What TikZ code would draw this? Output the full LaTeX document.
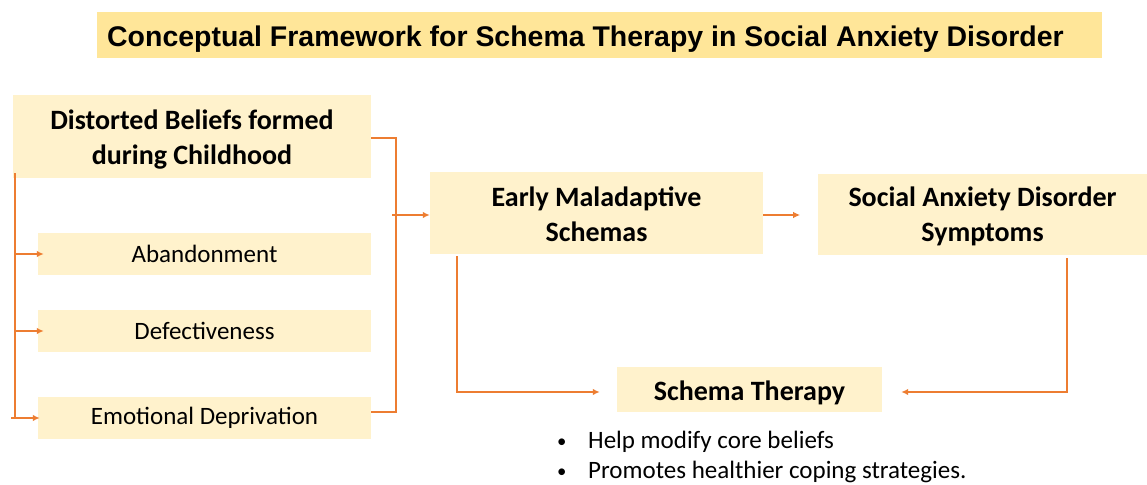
\documentclass[tikz,border=0pt]{standalone}
\usepackage{fontspec}
\setmainfont{Carlito}
\newfontfamily\titlefont{Liberation Sans}
\usetikzlibrary{arrows.meta,calc}
\definecolor{boxfill}{HTML}{FFF2CC}
\definecolor{titlefill}{HTML}{FFE699}
\definecolor{arrorange}{HTML}{ED7D31}
\begin{document}
\begin{tikzpicture}[x=1pt,y=-1pt,
  box/.style={fill=boxfill,draw=none,inner sep=0pt,align=center,text=black},
  headtext/.style={inner sep=0pt,align=center,font=\bfseries\fontsize{28}{35}\selectfont},
  itembox/.style={box,font=\fontsize{25}{30}\selectfont},
  conn/.style={draw=arrorange,line width=1.6pt},
  arr/.style={conn,-{Latex[length=7pt,width=6.5pt]}}]
\useasboundingbox[fill=white] (0,0) rectangle (1147,484);
% title
\node[fill=titlefill,minimum width=1005pt,minimum height=46pt,inner sep=0pt] (titlebox) at (599.5,35) {};
\node[anchor=base west,inner sep=0pt,font=\titlefont\bfseries\fontsize{28.45}{32}\selectfont] (title) at (107,46.5) {Conceptual Framework for Schema Therapy in Social Anxiety Disorder};
% left column
\node[box,minimum width=358pt,minimum height=83pt] (D) at (192,136.5) {};
\node[headtext] (Dt) at ($(D)+(0,3)$) {Distorted Beliefs formed\\during Childhood};
\node[itembox,minimum width=333pt,minimum height=42pt] (A) at (204.5,254) {Abandonment};
\node[itembox,minimum width=333pt,minimum height=42pt] (F) at (204.5,331) {Defectiveness};
\node[itembox,minimum width=333pt,minimum height=42pt] (E) at (204.5,418) {Emotional Deprivation};
% right boxes
\node[box,minimum width=333pt,minimum height=82pt] (M) at (596.5,213) {};
\node[headtext] (Mt) at ($(M)+(0,1)$) {Early Maladaptive\\Schemas};
\node[box,minimum width=329pt,minimum height=81pt] (S) at (982.5,214.5) {};
\node[headtext] (St) at ($(S)+(0,2)$) {Social Anxiety Disorder\\Symptoms};
\node[box,minimum width=265pt,minimum height=45pt] (T) at (749.5,389.5) {};
\node[headtext] (Tt) at ($(T)+(0,3)$) {Schema Therapy};
% bullets
\node[anchor=north west,inner sep=0pt,align=left,font=\fontsize{25}{30}\selectfont] (B) at (557,431)
  {\makebox[31pt][l]{\raisebox{1pt}{\scalebox{0.75}{•}}}Help modify core beliefs\\ \makebox[31pt][l]{\raisebox{1pt}{\scalebox{0.75}{•}}}Promotes healthier coping strategies.};
% connectors
\coordinate (vtop) at (15,173);
\coordinate (vbot) at (15,418);
\draw[conn] (vtop) -- (vbot);
\draw[arr] (vtop |- A.west) -- ([xshift=6pt]A.west);
\draw[arr] (vtop |- F.west) -- ([xshift=6pt]F.west);
\draw[arr] ($(vbot)+(-4,0)$) -- ([xshift=2pt]E.west);
\coordinate (rb) at (396,215);
\draw[conn] (D.east |- 0,138) -| (rb) |- ($(E.east)+(0,-6)$);
\draw[arr] ($(rb)+(-4,0)$) -- (M.west |- rb);
\draw[arr] (M.east |- 0,215) -- ++(37,0);
\draw[arr] ($(M.south west)+(27,2)$) |- ($(T.west)+(-17,2.5)$);
\draw[arr] ($(S.south west)+(249,3)$) |- ($(T.east)+(19,2.5)$);
\end{tikzpicture}
\end{document}
